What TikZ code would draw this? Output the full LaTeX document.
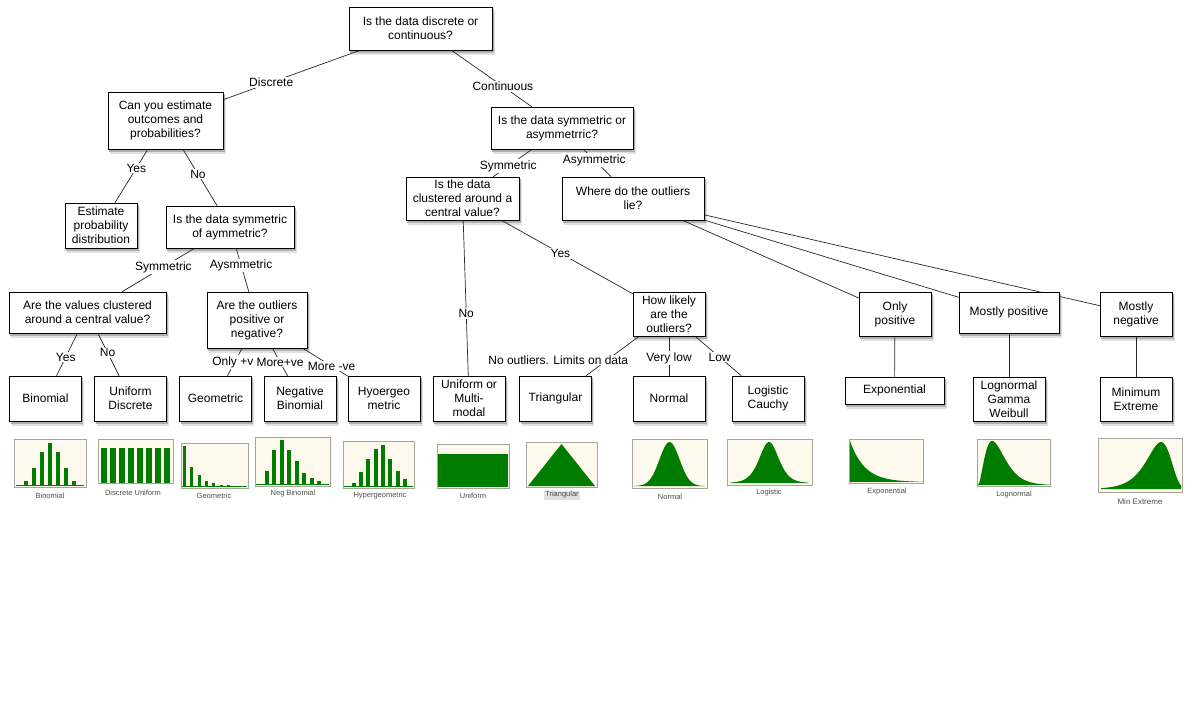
\documentclass[tikz,border=0pt]{standalone}
\usepackage{fontspec}
\setmainfont{Liberation Sans}
\usetikzlibrary{backgrounds, fit}

\definecolor{cream}{RGB}{253,250,237}
\definecolor{chartgreen}{RGB}{0,125,0}
\definecolor{framegray}{RGB}{165,165,155}
\definecolor{shadelight}{RGB}{225,225,225}
\definecolor{shadedark}{RGB}{175,175,175}

\tikzset{
    qbox/.style={draw, fill=white, align=center, inner sep=1pt,
        font=\fontsize{12}{14}\selectfont},
    leaf/.style={qbox, minimum width=72pt, minimum height=45pt},
    lbl/.style={fill=white, text=black, inner sep=1pt, font=\fontsize{12}{14}\selectfont},
    link/.style={black!85, line width=.7pt},
    boxshade/.style={draw=none, inner sep=0pt, outer sep=0pt},
    thumb/.style={draw=framegray, fill=cream, line width=1pt},
    barfill/.style={fill=chartgreen},
    capt/.style={font=\fontsize{7.5}{8}\selectfont, text=black!70, inner sep=1pt}
}

\begin{document}
\begin{tikzpicture}[x=1pt, y=-1pt]
        \useasboundingbox (0,0) rectangle (1196,702);

        % questions and answers
        \node[qbox, minimum width=143pt, minimum height=43pt] (top) at (420.5, 28.5) {Is the data discrete or\\continuous?};
        \node[qbox, minimum width=115pt, minimum height=57pt] (canest) at (165.5, 120.5) {Can you estimate\\outcomes and\\probabilities?};
        \node[leaf] (estprob) at (101, 225.5) {Estimate\\probability\\distribution};
        \node[qbox, minimum width=128pt, minimum height=42pt] (disym) at (230, 227) {Is the data symmetric\\of aymmetric?};
        \node[qbox, minimum width=157pt, minimum height=41pt] (diclust) at (87.5, 312.5) {Are the values clustered\\around a central value?};
        \node[qbox, minimum width=100pt, minimum height=56pt] (diout) at (257, 320) {Are the outliers\\positive or\\negative?};
        \node[leaf] (binom) at (45.5, 398.5) {Binomial};
        \node[leaf] (unidisc) at (130.5, 398.5) {Uniform\\Discrete};
        \node[leaf] (geom) at (215.5, 398.5) {Geometric};
        \node[leaf] (negbin) at (300, 398.5) {Negative\\Binomial};
        \node[leaf] (hyper) at (384, 398.5) {Hyoergeo\\metric};

        \node[qbox, minimum width=142pt, minimum height=42pt] (cosym) at (562, 128) {Is the data symmetric or\\asymmetrric?};
        \node[qbox, minimum width=113pt, minimum height=43pt] (coclust) at (462.5, 198.5) {Is the data\\clustered around a\\central value?};
        \node[qbox, minimum width=142pt, minimum height=43pt] (coout) at (633, 198.5) {Where do the outliers\\lie?};
        \node[leaf, minimum height=44pt] (likely) at (669, 314) {How likely\\are the\\outliers?};
        \node[leaf] (unimm) at (469, 398.5) {Uniform or\\Multi-\\modal};
        \node[leaf] (tri) at (555.5, 398.5) {Triangular};
        \node[leaf] (normal) at (669, 398.5) {Normal};
        \node[leaf] (logis) at (768, 398.5) {Logistic\\Cauchy};
        \node[leaf, minimum height=44pt] (onlypos) at (895, 314) {Only\\positive};
        \node[qbox, minimum width=100pt, minimum height=41pt] (mostpos) at (1009, 312.5) {Mostly positive};
        \node[leaf, minimum height=44pt] (mostneg) at (1136, 314) {Mostly\\negative};
        \node[qbox, minimum width=99pt, minimum height=27pt] (expo) at (894.5, 390.5) {Exponential};
        \node[leaf, minimum height=44pt] (logn) at (1009, 399) {Lognormal\\Gamma\\Weibull};
        \node[leaf, minimum height=44pt] (minext) at (1136, 399) {Minimum\\Extreme};

        \begin{scope}[on background layer]
        % shadows under the boxes
        \foreach \bx in {top,canest,estprob,disym,diclust,diout,binom,unidisc,geom,negbin,hyper,cosym,coclust,coout,likely,unimm,tri,normal,logis,onlypos,mostpos,mostneg,expo,logn,minext} {
            \node[boxshade, fill=shadelight, fit=(\bx), xshift=2.5pt, yshift=-5pt] (softshade\bx) {};
            \node[boxshade, fill=shadedark, fit=(\bx), xshift=1.5pt, yshift=-2.5pt] (hardshade\bx) {};
        }

        \draw[link] (top) -- node[lbl, pos=.65] {Discrete} (canest);
        \draw[link] (top) -- node[lbl, pos=.64] {Continuous} (cosym);
        \draw[link] (canest) -- node[lbl, pos=.35] {Yes} (estprob);
        \draw[link] (canest) -- node[lbl, pos=.44] {No} (disym);
        \draw[link] (disym) -- node[lbl, pos=.43] {Symmetric} (diclust);
        \draw[link] (disym) -- node[lbl, pos=.39] {Aysmmetric} (diout);
        \draw[link] (diclust) -- node[lbl, pos=.56] {Yes} (binom);
        \draw[link] (diclust) -- node[lbl, pos=.46] {No} (unidisc);
        \draw[link] (diout) -- node[lbl, pos=.5, xshift=-2pt] {Only +v} (geom);
        \draw[link] (diout) -- node[lbl, pos=.5] {More+ve} (negbin);
        \draw[link] (diout) -- node[lbl, pos=.64] {More -ve} (hyper);
        \draw[link] (cosym) -- node[lbl, pos=.61] {Symmetric} (coclust);
        \draw[link] (cosym) -- node[lbl, pos=.39] {Asymmetric} (coout);
        \draw[link] (coclust) -- node[lbl, pos=.6] {No} (unimm);
        \draw[link] (coclust) -- node[lbl, pos=.45] {Yes} (likely);
        \draw[link] (likely) -- node[lbl, pos=.6, xshift=-49pt] {No outliers. Limits on data} (tri);
        \draw[link] (likely) -- node[lbl, pos=.55] {Very low} (normal);
        \draw[link] (likely) -- node[lbl, pos=.53] {Low} (logis);
        \draw[link] (coout) -- (onlypos);
        \draw[link] (coout) -- (mostpos);
        \draw[link] (coout) -- (mostneg);
        \draw[link] (onlypos) -- (expo);
        \draw[link] (mostpos) -- (logn);
        \draw[link] (mostneg) -- (minext);
        \end{scope}

        % charts
        \draw[thumb] (14,439) rectangle (86,487);
        \draw[chartgreen, line width=.6pt] (16,485) -- (84,485);
        \foreach \u/\h in {.17/.1,.28/.38,.39/.75,.5/.95,.61/.75,.72/.38,.83/.1}
            \fill[barfill] ({14+\u*72-2},485) rectangle ++(4,{-\h*44});
        \node[capt] (capbinom) at (50,496) {Binomial};

        \draw[thumb] (98,439) rectangle (173,483);
        \foreach \u in {.08,.2,.32,.44,.56,.68,.8,.92}
            \fill[barfill] ({98+\u*75-3},483) rectangle ++(6,-35);
        \node[capt] (capunidisc) at (133,493) {Discrete Uniform};

        \draw[thumb] (181,443) rectangle (248,488);
        \draw[chartgreen, line width=.6pt] (182,486) -- (247,486);
        \foreach \u/\h in {.05/.92,.16/.45,.27/.25,.38/.12,.49/.06,.6/.03,.71/.02}
            \fill[barfill] ({181+\u*67-1.5},486) rectangle ++(3,{-\h*43});
        \node[capt] (capgeom) at (214,496) {Geometric};

        \draw[thumb] (255,437) rectangle (330,486);
        \draw[chartgreen, line width=.6pt] (256,484) -- (329,484);
        \foreach \u/\h in {.155/.29,.255/.75,.355/.95,.455/.75,.555/.49,.65/.24,.755/.12,.855/.07}
            \fill[barfill] ({255+\u*75-2},484) rectangle ++(4,{-\h*46});
        \node[capt] (capnegbin) at (293,494) {Neg Binomial};

        \draw[thumb] (343,441) rectangle (414,488);
        \draw[chartgreen, line width=.6pt] (344,486) -- (413,486);
        \foreach \u/\h in {.15/.07,.25/.32,.35/.61,.46/.84,.56/.94,.66/.61,.77/.34,.87/.16}
            \fill[barfill] ({343+\u*71-2},486) rectangle ++(4,{-\h*44});
        \node[capt] (caphyper) at (380,496) {Hypergeometric};

        \draw[thumb] (437,444) rectangle (509,488);
        \fill[chartgreen] (438,454) rectangle (508,487);
        \node[capt] (capunif) at (473,496) {Uniform};

        \draw[thumb] (526,442) rectangle (597,487);
        \fill[chartgreen] (528,486) -- (561.5,444) -- (595,486) -- cycle;
        \node[capt, fill=black!12] (captri) at (562,495) {Triangular};

        \draw[thumb] (632,439) rectangle (707,488);
        \fill[chartgreen] (634,486) -- plot[domain=-3.5:3.5, samples=60] ({669.5+\x*10},{486-44*exp(-\x*\x/2)}) -- (705,486) -- cycle;
        \node[capt] (capnormal) at (670,497) {Normal};

        \draw[thumb] (727,439) rectangle (812,485);
        \fill[chartgreen] (730,483) -- plot[domain=-6:6, samples=80] ({769+\x*6.5},{483-164*exp(-abs(\x))/(1+exp(-abs(\x)))^2}) -- (808,483) -- cycle;
        \node[capt] (caplogis) at (769,493) {Logistic};

        \draw[thumb] (849,439) rectangle (923,483);
        \fill[chartgreen] (850,482) -- plot[domain=0:5, samples=50] ({850+\x*14.6},{482-41*exp(-\x)}) -- cycle;
        \node[capt] (capexpo) at (887,492) {Exponential};

        \draw[thumb] (977,439) rectangle (1050,486);
        \fill[chartgreen] (978,485) -- plot[domain=0:5, samples=60] ({978+\x*14.2},{485-44*(\x*exp(1-\x))^2}) -- (1049,485) -- cycle;
        \node[capt] (caplogn) at (1014,495) {Lognormal};

        \draw[thumb] (1098,438) rectangle (1182,492);
        \fill[chartgreen] (1101,489) -- plot[domain=-5:1.7, samples=80] ({1161+\x*12},{489-47*exp(\x-exp(\x)+1)}) -- (1181,489) -- cycle;
        \node[capt, font=\fontsize{8}{9}\selectfont] (capminext) at (1140,502) {Min Extreme};
    \end{tikzpicture}
\end{document}
